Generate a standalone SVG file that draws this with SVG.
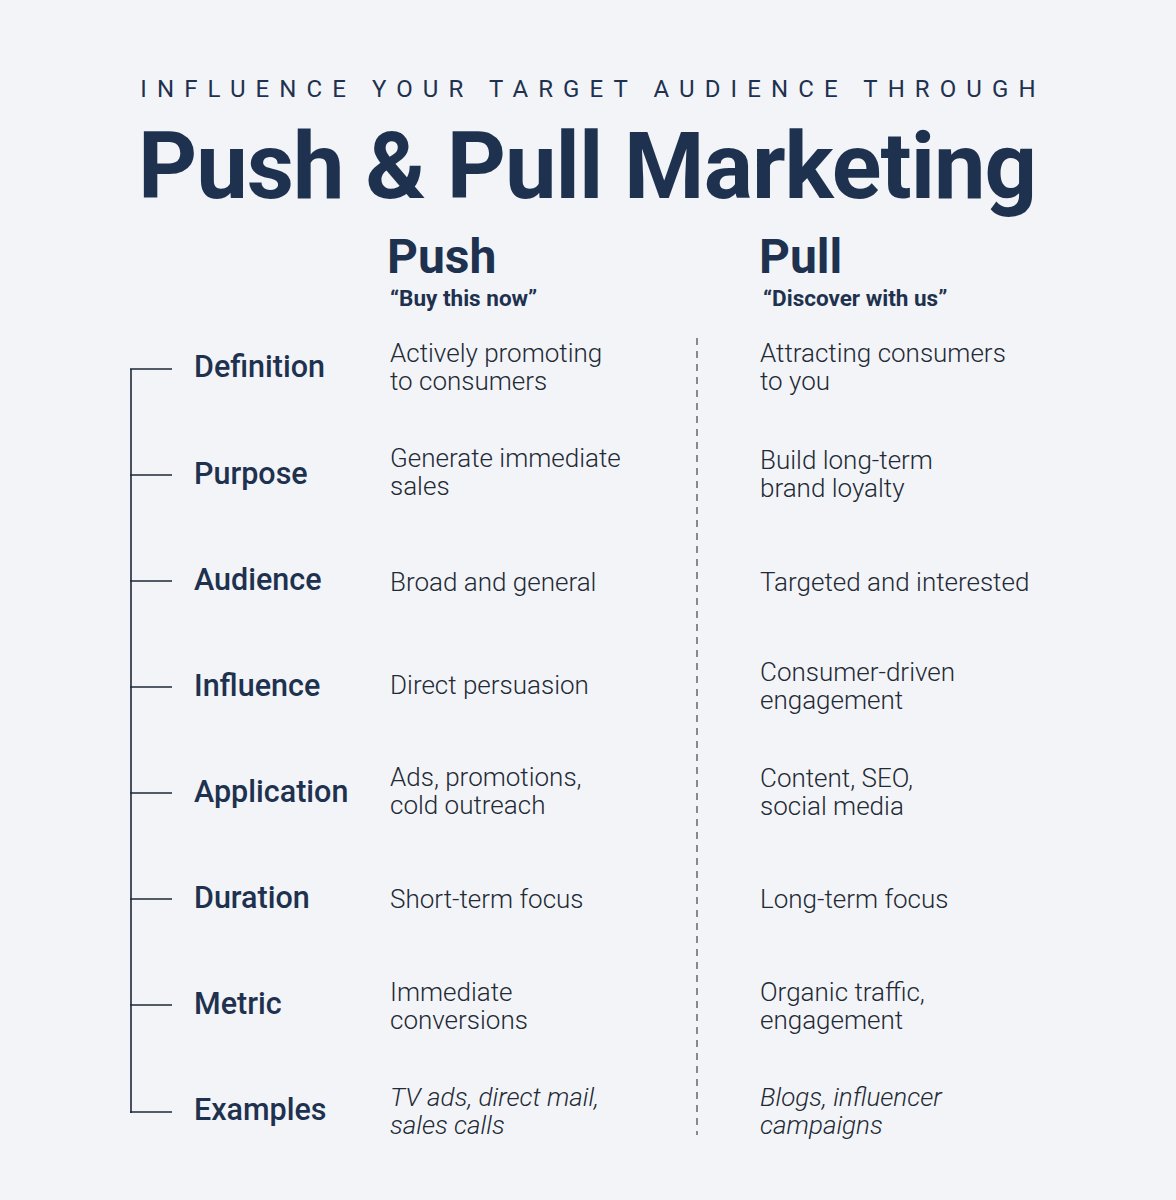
<svg xmlns="http://www.w3.org/2000/svg" width="1176" height="1200" viewBox="0 0 1176 1200">
<style>
text{font-family:Roboto,"Liberation Sans",sans-serif;fill:#1e3250}
.sub{font-size:24px;letter-spacing:10.1px;font-weight:400}
.title{font-size:92px;font-weight:700;letter-spacing:-1px}
.col{font-size:48px;font-weight:700}
.quote{font-size:22.5px;font-weight:700}
.lbl{font-size:30.5px;font-weight:500}
.b{font-size:26px;font-weight:300;fill:#222a36}
.i{font-style:italic}
.ln{stroke:#1e2a3a;stroke-width:1.6;fill:none}
</style>
<rect width="1176" height="1200" fill="#f3f4f7"/>
<g id="header">
<text class="sub" x="593" y="97" text-anchor="middle">INFLUENCE YOUR TARGET AUDIENCE THROUGH</text>
<text class="title" x="587" y="198" text-anchor="middle">Push &amp; Pull Marketing</text>
<text class="col" x="387" y="273">Push</text>
<text class="quote" x="390" y="306">“Buy this now”</text>
<text class="col" x="759" y="273">Pull</text>
<text class="quote" x="763" y="306">“Discover with us”</text>
</g>
<g id="connectors">
<path class="ln" d="M131 369V1113M130 369H172M130 475H172M130 581H172M130 687H172M130 793H172M130 899H172M130 1005H172M130 1112H172"/>
<path d="M697 338V1135" stroke="#666" stroke-width="1.5" stroke-dasharray="7 6"/>
</g>
<g id="labels">
<text class="lbl" x="194" y="377">Definition</text>
<text class="lbl" x="194" y="484">Purpose</text>
<text class="lbl" x="194" y="590">Audience</text>
<text class="lbl" x="194" y="696">Influence</text>
<text class="lbl" x="194" y="802">Application</text>
<text class="lbl" x="194" y="908">Duration</text>
<text class="lbl" x="194" y="1014">Metric</text>
<text class="lbl" x="194" y="1120">Examples</text>
</g>
<g id="push">
<text class="b" x="390" y="362">Actively promoting</text><text class="b" x="390" y="390">to consumers</text>
<text class="b" x="390" y="467">Generate immediate</text><text class="b" x="390" y="495">sales</text>
<text class="b" x="390" y="591">Broad and general</text>
<text class="b" x="390" y="694">Direct persuasion</text>
<text class="b" x="390" y="786">Ads, promotions,</text><text class="b" x="390" y="814">cold outreach</text>
<text class="b" x="390" y="908">Short-term focus</text>
<text class="b" x="390" y="1001">Immediate</text><text class="b" x="390" y="1029">conversions</text>
<text class="b i" x="390" y="1106">TV ads, direct mail,</text><text class="b i" x="390" y="1134">sales calls</text>
</g>
<g id="pull">
<text class="b" x="760" y="362">Attracting consumers</text><text class="b" x="760" y="390">to you</text>
<text class="b" x="760" y="469">Build long-term</text><text class="b" x="760" y="497">brand loyalty</text>
<text class="b" x="760" y="591">Targeted and interested</text>
<text class="b" x="760" y="681">Consumer-driven</text><text class="b" x="760" y="709">engagement</text>
<text class="b" x="760" y="787">Content, SEO,</text><text class="b" x="760" y="815">social media</text>
<text class="b" x="760" y="908">Long-term focus</text>
<text class="b" x="760" y="1001">Organic traffic,</text><text class="b" x="760" y="1029">engagement</text>
<text class="b i" x="760" y="1106">Blogs, influencer</text><text class="b i" x="760" y="1134">campaigns</text>
</g>
</svg>
